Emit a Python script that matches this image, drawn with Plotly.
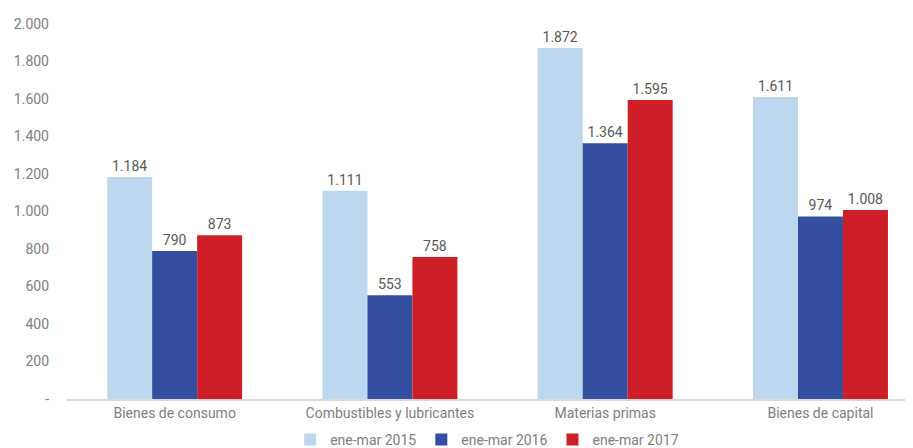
import plotly.graph_objects as go

categories = ["Bienes de consumo", "Combustibles y lubricantes", "Materias primas", "Bienes de capital"]
series_names = ["ene-mar 2015", "ene-mar 2016", "ene-mar 2017"]
v2015 = [1184, 1111, 1872, 1611]
v2016 = [790, 553, 1364, 974]
v2017 = [873, 758, 1595, 1008]
tick_vals = [0, 200, 400, 600, 800, 1000, 1200, 1400, 1600, 1800, 2000]
tick_text = ["-", "200", "400", "600", "800", "1.000", "1.200", "1.400", "1.600", "1.800", "2.000"]

colors = ["#BDD7EE", "#344EA0", "#CE1F28"]
FONT = "Roboto, Arial, sans-serif"

def fmt(v):
    return f"{v:,}".replace(",", ".")

fig = go.Figure()
for name, vals, c in zip(series_names, [v2015, v2016, v2017], colors):
    fig.add_trace(go.Bar(
        x=categories, y=vals, name=name, marker=dict(color=c, line=dict(width=0)),
        text=[fmt(v) for v in vals], textposition="outside",
        textfont=dict(color="#595959", size=14, family=FONT), cliponaxis=False,
    ))

fig.update_layout(
    width=913, height=448,
    margin=dict(l=59, r=0, t=16, b=57, autoexpand=False),
    barmode="group", bargap=0.373, bargroupgap=0,
    plot_bgcolor="white", paper_bgcolor="white",
    font=dict(family=FONT, color="#808080", size=14),
    showlegend=True,
    legend=dict(orientation="h", x=0.492, xanchor="center", yref="container", y=0.036, yanchor="middle",
                font=dict(size=14, color="#808080"), itemwidth=30, traceorder="normal"),
    xaxis=dict(showline=True, linecolor="#D9D9D9", linewidth=2, ticks="", automargin=False,
               range=[-0.5, 3.467], tickfont=dict(size=14, color="#808080")),
    yaxis=dict(range=[0, 2000], tickvals=tick_vals, ticktext=tick_text, showgrid=False,
               zeroline=False, showline=False, ticks="", tickfont=dict(size=14, color="#808080"),
               ticklabelstandoff=17, automargin=False),
)
fig.write_html("out.html")
